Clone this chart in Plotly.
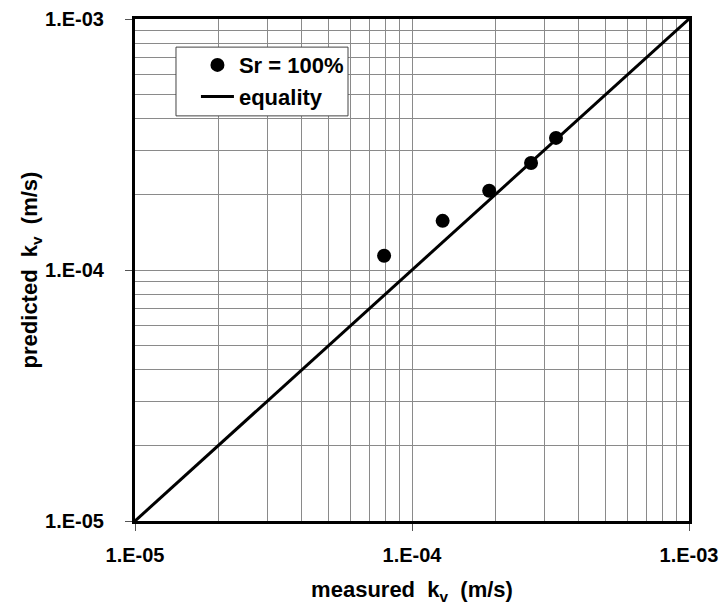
import plotly.graph_objects as go

measured_kv = [7.93e-5, 1.29e-4, 1.90e-4, 2.69e-4, 3.31e-4]
predicted_kv = [1.14e-4, 1.57e-4, 2.07e-4, 2.67e-4, 3.36e-4]
equality_x = [1e-5, 1e-3]
equality_y = [1e-5, 1e-3]
major_ticks = [1e-5, 1e-4, 1e-3]
major_labels = ["1.E-05", "1.E-04", "1.E-03"]
minor_ticks = [d * 10 ** e for e in (-5, -4) for d in range(2, 10)]

FONT = "Liberation Sans, Arial, sans-serif"

fig = go.Figure()
fig.add_trace(go.Scatter(
    x=measured_kv, y=predicted_kv, mode="markers", name="Sr = 100%",
    marker=dict(color="black", size=14, symbol="circle"),
))
fig.add_trace(go.Scatter(
    x=equality_x, y=equality_y, mode="lines", name="equality",
    line=dict(color="black", width=3),
))

axis_common = dict(
    type="log",
    range=[-5, -3],
    automargin=False,
    tickmode="array",
    tickvals=major_ticks,
    ticktext=major_labels,
    ticks="outside",
    ticklen=7,
    tickwidth=1,
    tickcolor="#555555",
    ticklabeloverflow="allow",
    showgrid=True,
    gridcolor="#8a8a8a",
    gridwidth=1,
    showline=True,
    linecolor="black",
    linewidth=3,
    mirror=True,
    zeroline=False,
    tickfont=dict(family=FONT, size=20, color="black", weight="bold"),
    minor=dict(tickvals=minor_ticks, showgrid=True, gridcolor="#8a8a8a", gridwidth=1, ticks=""),
)

fig.update_xaxes(**axis_common, ticklabelstandoff=7,
                 title=dict(text="measured  k<sub>v</sub>  (m/s)", standoff=18,
                            font=dict(family=FONT, size=22, color="black", weight="bold")))
fig.update_yaxes(**axis_common, ticklabelstandoff=17,
                 title=dict(text="predicted  k<sub>v</sub>  (m/s)", standoff=0,
                            font=dict(family=FONT, size=22, color="black", weight="bold")))

# legend frame (white box with thin border)
fig.add_shape(type="rect", xref="paper", yref="paper",
              x0=0.074, x1=0.3845, y0=0.807, y1=0.944,
              fillcolor="white", line=dict(color="#444444", width=1), layer="above")

fig.update_layout(
    width=725, height=605,
    margin=dict(l=135, r=36, t=19, b=84),
    paper_bgcolor="white",
    plot_bgcolor="white",
    showlegend=True,
    legend=dict(
        x=0.110, y=0.950, xanchor="left", yanchor="top",
        bgcolor="rgba(0,0,0,0)", borderwidth=0,
        font=dict(family=FONT, size=22, color="black", weight="bold"),
        itemwidth=33,
    ),
)

fig.write_html("out.html", config={"displayModeBar": False},
               post_script="document.body.style.margin='0';document.body.style.overflow='hidden';")
